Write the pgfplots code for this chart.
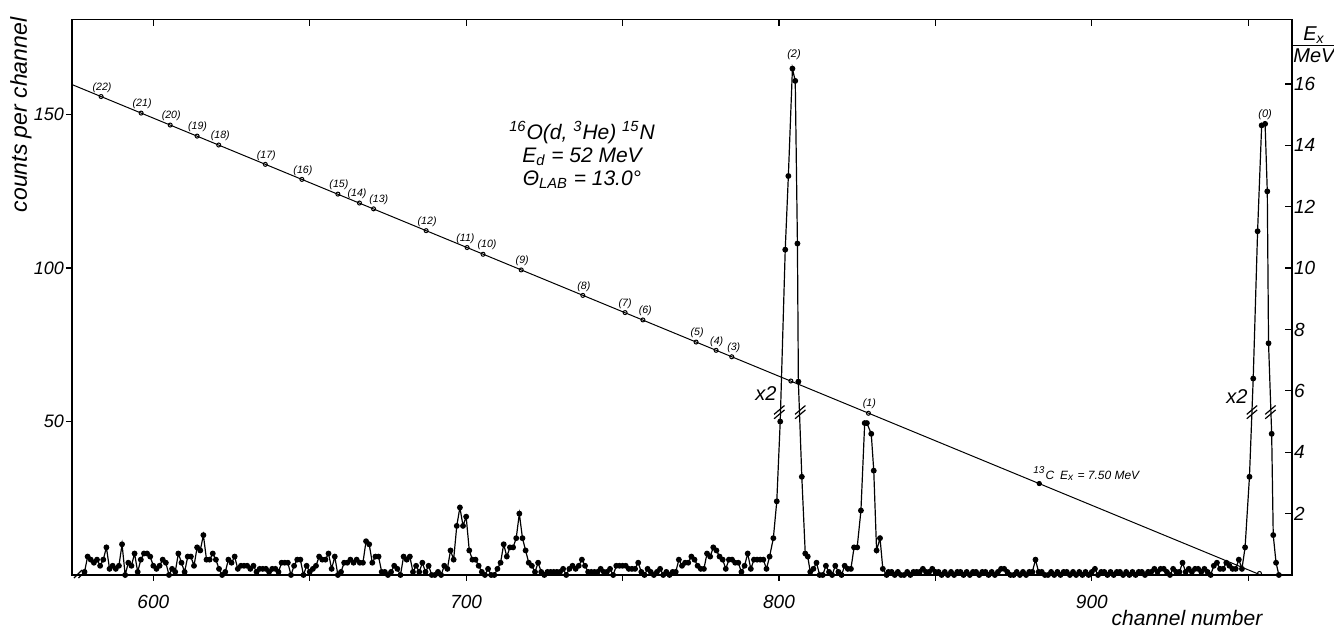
\documentclass[border=0pt]{standalone}
\usepackage{pgfplots}
\pgfplotsset{compat=1.18}
\usepackage{pgfplotstable}
\usepackage{fontspec}
\setmainfont{Liberation Sans}
\pgfplotstableread{
ch cnt
578 1
579 6
580 5
581 4
582 5
583 3
584 5
585 9
586 2
587 3
588 2
589 3
590 10
591 0
592 4
593 3
594 7
595 1
596 5
597 7
598 7
599 6
600 3
601 2
602 3
603 5
604 4
605 0
606 2
607 1
608 7
609 4
610 1
611 6
612 6
613 3
614 9
615 8
616 13
617 5
618 5
619 7
620 5
621 2
622 0
623 1
624 5
625 4
626 6
627 2
628 3
629 3
630 3
631 2
632 3
633 1
634 2
635 2
636 2
637 1
638 2
639 2
640 1
641 4
642 4
643 4
644 0
645 3
646 5
647 5
648 0
649 3
650 1
651 2
652 3
653 6
654 5
655 5
656 7
657 2
658 6
659 0
660 1
661 4
662 4
663 5
664 4
665 5
666 4
667 4
668 11
669 10
670 4
671 6
672 6
673 1
674 1
675 0
676 1
677 3
678 2
679 0
680 6
681 5
682 6
683 1
684 3
685 1
686 4
687 1
688 3
689 0
690 0
691 1
692 0
693 3
694 2
695 8
696 5
697 16
698 22
699 16
700 19
701 8
702 5
703 5
704 3
705 1
706 0
707 2
708 0
709 0
710 2
711 4
712 10
713 6
714 9
715 9
716 12
717 20
718 12
719 8
720 4
721 3
722 1
723 4
724 1
725 0
726 1
727 1
728 1
729 1
730 1
731 2
732 0
733 2
734 3
735 2
736 3
737 5
738 3
739 1
740 1
741 1
742 1
743 2
744 1
745 1
746 2
747 0
748 3
749 3
750 3
751 3
752 2
753 2
754 2
755 4
756 1
757 0
758 2
759 1
760 0
761 1
762 2
763 0
764 1
765 0
766 1
767 1
768 5
769 3
770 4
771 4
772 6
773 5
774 3
775 2
776 2
777 7
778 6
779 9
780 8
781 6
782 5
783 2
784 5
785 5
786 4
787 4
788 1
789 3
790 7
791 2
792 5
793 5
794 5
795 5
796 2
797 6
798.2 12
799.3 24
800.4 50
802.0 106
803.0 130
804.3 165
805.2 161
805.9 108
806.2 63
807.3 32
808.4 7
809.2 6
810 1
811 2
812 4
813 0
814 0
815 3
816 1
817 0
818 3
819 1
820 0
821 3
822 2
823 2
824 9
825 9
826.2 21
827.4 49.5
828.1 49.5
829.5 46
830.3 34
831.2 8
832.3 12
833.2 2
834.4 0
835 1
836 1
837 0
838 1
839 0
840 0
841 1
842 0
843 1
844 1
845 1
846 2
847 1
848 1
849 2
850 1
851 1
852 0
853 1
854 0
855 1
856 0
857 1
858 1
859 0
860 1
861 0
862 1
863 1
864 0
865 1
866 1
867 0
868 1
869 0
870 1
871 2
872 2
873 1
874 0
875 0
876 1
877 0
878 1
879 0
880 1
881 1
882 5
883 1
884 1
885 0
886 0
887 1
888 0
889 1
890 0
891 1
892 1
893 0
894 1
895 0
896 1
897 0
898 1
899 0
900 1
901 2
902 0
903 1
904 1
905 0
906 1
907 0
908 1
909 1
910 0
911 1
912 0
913 1
914 0
915 1
916 1
917 0
918 1
919 1
920 2
921 1
922 2
923 2
924 1
925 0
926 2
927 1
928 1
929 4
930 1
931 2
932 1
933 2
934 2
935 1
936 2
937 1
938 0
939 3
940 4
941 2
942 2
943 4
944 3
945 2
946 2
947 5
948 2
949.0 9
950.4 32
951.6 64
953.0 112
954.3 146.5
955.4 147
956.1 125
956.5 75.5
957.5 46
958.0 13
958.9 4
959.8 0
}\spectrum
\pgfplotstableread{
ch E lab dx
583.3 15.59 (22) 0.5
596.1 15.05 (21) 0.5
605.4 14.66 (20) 0.5
614.0 14.30 (19) 0.2
620.9 14.01 (18) 0.8
635.8 13.38 (17) 0.5
647.5 12.89 (16) 0.5
659.0 12.41 (15) 0.5
665.9 12.12 (14) -1.2
670.4 11.93 (13) 2.6
687.2 11.22 (12) 0.5
700.3 10.67 (11) -0.8
705.4 10.45 (10) 2.0
717.6 9.94 (9) 0.5
737.3 9.11 (8) 0.5
750.8 8.55 (7) 0.0
756.5 8.31 (6) 1.2
773.5 7.59 (5) 0.5
779.9 7.32 (4) 0.3
784.9 7.11 (3) 1.0
828.6 5.27 (1) 0.5
}\calib
\begin{document}
\begin{tikzpicture}[font=\itshape]
\path[use as bounding box] (-36pt,-27.5pt) rectangle (631pt,287.5pt);
% main axis: counts per channel
\begin{axis}[
  scale only axis, width=610pt, height=277.75pt,
  xmin=574, xmax=964, ymin=0, ymax=181,
  xtick={600,700,800,900}, minor xtick={650,750,850,950},
  ytick={50,100,150},
  xtick pos=left, ytick pos=left, tick align=outside,
  major tick length=3pt, minor tick length=3pt,
  tick style={black, line width=0.6pt},
  axis line style={line width=0.7pt},
  /pgf/number format/assume math mode=true,
  xticklabel style={font=\fontsize{9.5}{10}\selectfont\itshape, yshift=-3.5pt},
  yticklabel style={font=\fontsize{9}{10}\selectfont\itshape, xshift=2.5pt},
  clip=false,
]
\addplot[black, line width=0.6pt, mark=*, mark size=1.15pt] table[x=ch,y=cnt]{\spectrum};
% break marks
\draw[line width=0.6pt] ([shift={(-2.6pt,-3.2pt)}]axis cs:800.1,53) -- ++(5.2pt,4.4pt);
\draw[line width=0.6pt] ([shift={(-2.6pt,-1.0pt)}]axis cs:800.1,53) -- ++(5.2pt,4.4pt);
\draw[line width=0.6pt] ([shift={(-2.6pt,-3.2pt)}]axis cs:806.8,53) -- ++(5.2pt,4.4pt);
\draw[line width=0.6pt] ([shift={(-2.6pt,-1.0pt)}]axis cs:806.8,53) -- ++(5.2pt,4.4pt);
\draw[line width=0.6pt] ([shift={(-2.6pt,-3.2pt)}]axis cs:951.2,53) -- ++(5.2pt,4.4pt);
\draw[line width=0.6pt] ([shift={(-2.6pt,-1.0pt)}]axis cs:951.2,53) -- ++(5.2pt,4.4pt);
\draw[line width=0.6pt] ([shift={(-2.6pt,-3.2pt)}]axis cs:957.1,53) -- ++(5.2pt,4.4pt);
\draw[line width=0.6pt] ([shift={(-2.6pt,-1.0pt)}]axis cs:957.1,53) -- ++(5.2pt,4.4pt);
\draw[line width=0.6pt] ([shift={(-3.1pt,-2pt)}]axis cs:576.6,0.3) -- ++(4pt,4pt);
\draw[line width=0.6pt] ([shift={(-0.9pt,-2pt)}]axis cs:576.6,0.3) -- ++(4pt,4pt);
\node[font=\fontsize{5.5}{6}\selectfont\itshape] at (axis cs:804.8,169.5) {(2)};
\node[font=\fontsize{5.5}{6}\selectfont\itshape] at (axis cs:955.4,150) {(0)};
\end{axis}
% second axis: Ex / MeV
\begin{axis}[
  scale only axis, width=610pt, height=277.75pt,
  xmin=574, xmax=964, ymin=0, ymax=18.1,
  xtick={600,650,...,950}, xticklabels={},
  ytick={2,4,...,16},
  xtick pos=right, ytick pos=right, yticklabel pos=right, tick align=inside,
  major tick length=3.5pt,
  tick style={black, line width=0.6pt},
  axis line style={line width=0.7pt},
  /pgf/number format/assume math mode=true,
  ticklabel style={font=\fontsize{9.5}{10}\selectfont\itshape},
  yticklabel style={xshift=-2.5pt},
  clip=false,
]
\addplot[black, line width=0.5pt] coordinates {(574,15.98) (954,0)};
\addplot[only marks, mark=o, mark size=1pt, mark options={fill=white, line width=0.5pt},
  nodes near coords, point meta=explicit symbolic,
  visualization depends on={\thisrow{dx} \as \dx},
  every node near coord/.append style={font=\fontsize{5.3}{5.3}\selectfont\itshape, anchor=south, inner sep=0.5pt, yshift=1.3pt, xshift=\dx pt}]
  table[x=ch,y=E,meta=lab]{\calib};
\addplot[only marks, mark=o, mark size=1pt, mark options={fill=white, line width=0.5pt}]
  coordinates {(803.8,6.32) (953.6,0.05)};
\addplot[only marks, mark=*, mark size=1.1pt] coordinates {(883.2,2.98)};
\end{axis}
% labels
\node[rotate=90, font=\fontsize{11.5}{12}\selectfont\itshape] at (-25.5pt,230pt) {counts per channel};
\node[font=\fontsize{10.5}{11}\selectfont\itshape] at (557.5pt,-21.5pt) {channel number};
\node[font=\fontsize{10}{11}\selectfont\itshape, inner sep=0pt] at (621pt,264pt)
  {\begin{tabular}{@{}c@{}}E\textsubscript{x}\\[-1pt]\hline\rule{0pt}{8.5pt}MeV\end{tabular}};
\node[font=\fontsize{10.5}{11.5}\selectfont\itshape, align=center] at (255pt,210pt)
  {\textsuperscript{16}O(d, \textsuperscript{3}He) \textsuperscript{15}N\\
   E\textsubscript{d} = 52 MeV\\
   Θ\textsubscript{LAB} = 13.0°};
\node[font=\fontsize{10}{10}\selectfont\itshape] at (347pt,90.5pt) {x2};
\node[font=\fontsize{10}{10}\selectfont\itshape] at (582.5pt,89pt) {x2};
\node[font=\fontsize{6}{6}\selectfont\itshape, anchor=west, inner sep=0pt] at (480.5pt,50.5pt)
  {\textsuperscript{13}C\enspace E\textsubscript{x} = 7.50 MeV};
\end{tikzpicture}
\end{document}
